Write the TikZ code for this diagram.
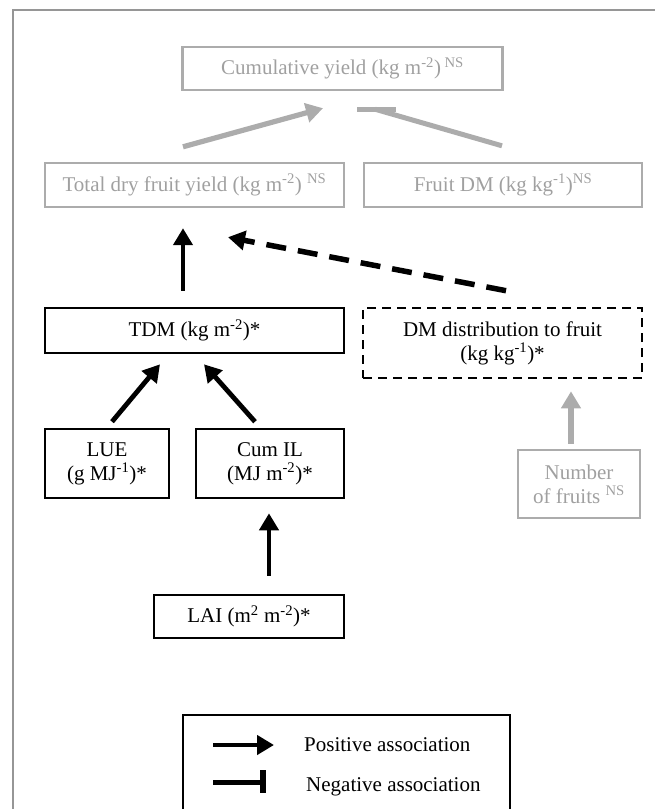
\documentclass[tikz,border=0pt]{standalone}
\usepackage{fontspec}
\setmainfont{Liberation Serif}
\usetikzlibrary{arrows.meta}
\definecolor{nsgray}{RGB}{172,172,172}
\definecolor{nstext}{RGB}{160,160,160}
\definecolor{framegray}{RGB}{150,150,150}

\begin{document}
\begin{tikzpicture}[x=1pt,y=-1pt,
  font=\fontsize{21}{24}\selectfont,
  box/.style={draw,line width=2.6pt,inner sep=0pt,align=center},
  nsbox/.style={draw=nsgray,text=nstext,line width=2.4pt,inner sep=0pt,align=center},
  dashbox/.style={box,dash pattern=on 9pt off 6pt},
  posarrow/.style={line width=4.8pt,-{Triangle[length=17pt,width=19pt]}},
  nsarrow/.style={posarrow,line width=5.2pt,draw=nsgray,fill=nsgray},
  bararrow/.style={line width=5pt}]
  \useasboundingbox (0,0) rectangle (654,809);
  \draw[framegray,line width=1.5pt] (660,10) -- (13,10) -- (13,815);
  % boxes
  \node[nsbox,minimum width=320pt,minimum height=43pt] (cum) at (342.5,68.5) {Cumulative yield (kg m\textsuperscript{-2})\,\textsuperscript{NS}};
  \node[nsbox,minimum width=299pt,minimum height=44pt] (total) at (194.5,185) {Total dry fruit yield (kg m\textsuperscript{-2}) \textsuperscript{NS}};
  \node[nsbox,minimum width=278pt,minimum height=44pt] (fdm) at (503,185) {Fruit DM (kg kg\textsuperscript{-1})\textsuperscript{NS}};
  \node[box,minimum width=299pt,minimum height=45pt] (tdm) at (194.5,330.5) {TDM (kg m\textsuperscript{-2})*};
  \node[dashbox,minimum width=279pt,minimum height=70pt] (dist) at (502.5,343) {DM distribution to fruit\\(kg kg\textsuperscript{-1})*};
  \node[box,minimum width=124pt,minimum height=69pt] (lue) at (107,463.5) {LUE\\(g MJ\textsuperscript{-1})*};
  \node[box,minimum width=148pt,minimum height=69pt] (cumil) at (270,463.5) {Cum IL\\(MJ m\textsuperscript{-2})*};
  \node[nsbox,minimum width=122pt,minimum height=68pt] (num) at (579,484) {Number\\of fruits \textsuperscript{NS}};
  \node[box,minimum width=190pt,minimum height=43pt] (lai) at (249,616.5) {LAI (m\textsuperscript{2} m\textsuperscript{-2})*};
  % associations
  \draw[nsarrow] ([shift={(-11.5,-15)}]total.north) -- ([shift={(-19.5,17)}]cum.south);
  \draw[bararrow,nsgray] ([shift={(-1,-16)}]fdm.north) -- ([shift={(32.5,18)}]cum.south);
  \draw[bararrow,nsgray,line width=5pt] ([shift={(14.5,18)}]cum.south) -- ([shift={(53.5,18)}]cum.south);
  \draw[posarrow] ([shift={(-11.5,-16)}]tdm.north) -- ([shift={(-11.5,20)}]total.south);
  \draw[posarrow,line width=5.5pt,dash pattern=on 20pt off 12pt] ([shift={(3.5,-16)}]dist.north) -- ([shift={(33.5,29)}]total.south);
  \draw[posarrow] ([shift={(5,-6)}]lue.north) -- ([shift={(-34.5,10)}]tdm.south);
  \draw[posarrow] ([shift={(-15,-6)}]cumil.north) -- ([shift={(9.5,10)}]tdm.south);
  \draw[posarrow] ([shift={(20,-18)}]lai.north) -- ([shift={(-1,14)}]cumil.south);
  \draw[nsarrow] ([shift={(-8,-5)}]num.north) -- ([shift={(68.5,12)}]dist.south);
  % legend
  \draw[line width=2.6pt] (183,715) rectangle (510,840);
  \node[anchor=base west,inner sep=0pt] (postxt) at (304,751) {Positive association};
  \node[anchor=base west,inner sep=0pt] (negtxt) at (306,791) {Negative association};
  \draw[posarrow] ([shift={(-91,-6)}]postxt.base west) -- ([shift={(-30,-6)}]postxt.base west);
  \draw[bararrow] ([shift={(-93,-9)}]negtxt.base west) -- ([shift={(-43,-9)}]negtxt.base west);
  \draw[bararrow,line width=6pt] ([shift={(-43,-21)}]negtxt.base west) -- ([shift={(-43,2)}]negtxt.base west);
\end{tikzpicture}
\end{document}
